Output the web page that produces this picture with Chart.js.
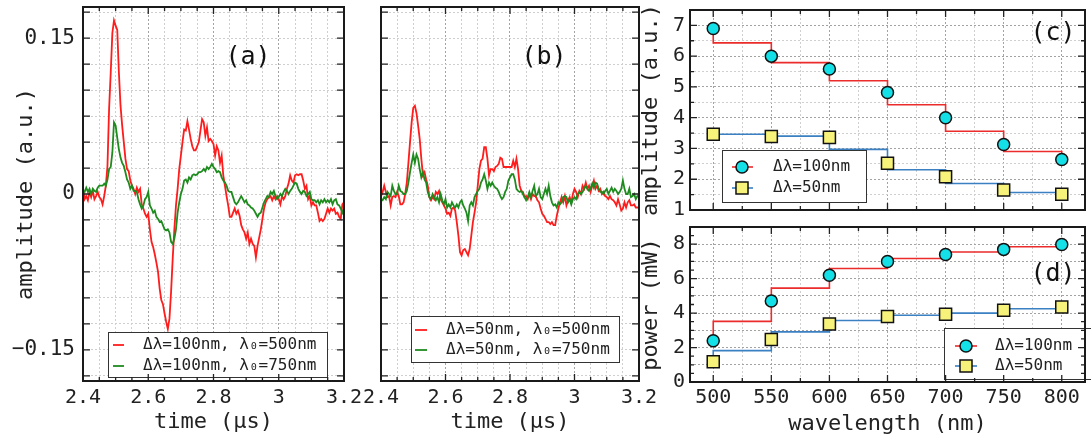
<!DOCTYPE html>
<html>
<head>
<meta charset="utf-8">
<script src="https://cdn.jsdelivr.net/npm/chart.js@4.4.0/dist/chart.umd.min.js"></script>
<style>
html, body { margin: 0; padding: 0; background: #fff; overflow: hidden; }
#fig { position: relative; width: 1091px; height: 441px; overflow: hidden; background: #fff; }
#fig canvas { position: absolute; }
</style>
</head>
<body>
<div id="fig">
  <canvas id="chartA" width="380" height="441" style="left:0;top:0"></canvas>
  <canvas id="chartB" width="300" height="441" style="left:360px;top:0"></canvas>
  <canvas id="chartC" width="465" height="220" style="left:630px;top:0"></canvas>
  <canvas id="chartD" width="465" height="224" style="left:630px;top:217px"></canvas>
</div>
<script>
// sample times (µs)
const times = [
  2.400, 2.405, 2.410, 2.415, 2.420, 2.425, 2.430, 2.435, 2.440, 2.445,
  2.450, 2.455, 2.460, 2.465, 2.470, 2.475, 2.480, 2.485, 2.490, 2.495,
  2.500, 2.505, 2.510, 2.515, 2.520, 2.525, 2.530, 2.535, 2.540, 2.545,
  2.550, 2.555, 2.560, 2.565, 2.570, 2.575, 2.580, 2.585, 2.590, 2.595,
  2.600, 2.605, 2.610, 2.615, 2.620, 2.625, 2.630, 2.635, 2.640, 2.645,
  2.650, 2.655, 2.660, 2.665, 2.670, 2.675, 2.680, 2.685, 2.690, 2.695,
  2.700, 2.705, 2.710, 2.715, 2.720, 2.725, 2.730, 2.735, 2.740, 2.745,
  2.750, 2.755, 2.760, 2.765, 2.770, 2.775, 2.780, 2.785, 2.790, 2.795,
  2.800, 2.805, 2.810, 2.815, 2.820, 2.825, 2.830, 2.835, 2.840, 2.845,
  2.850, 2.855, 2.860, 2.865, 2.870, 2.875, 2.880, 2.885, 2.890, 2.895,
  2.900, 2.905, 2.910, 2.915, 2.920, 2.925, 2.930, 2.935, 2.940, 2.945,
  2.950, 2.955, 2.960, 2.965, 2.970, 2.975, 2.980, 2.985, 2.990, 2.995,
  3.000, 3.005, 3.010, 3.015, 3.020, 3.025, 3.030, 3.035, 3.040, 3.045,
  3.050, 3.055, 3.060, 3.065, 3.070, 3.075, 3.080, 3.085, 3.090, 3.095,
  3.100, 3.105, 3.110, 3.115, 3.120, 3.125, 3.130, 3.135, 3.140, 3.145,
  3.150, 3.155, 3.160, 3.165, 3.170, 3.175, 3.180, 3.185, 3.190, 3.195,
  3.200
];

// (a) Δλ=100nm
const redA = [
  0.006, -0.005, -0.002, -0.006, 0.002, -0.003, 0.003, -0.005, -0.002, 0.002,
  -0.003, -0.005, -0.010, -0.002, 0.008, 0.027, 0.082, 0.117, 0.155, 0.167,
  0.162, 0.158, 0.117, 0.085, 0.066, 0.050, 0.034, 0.024, 0.022, 0.013,
  0.008, 0.005, 0.000, 0.006, 0.002, 0.005, -0.010, -0.014, -0.019, -0.022,
  -0.019, -0.034, -0.046, -0.051, -0.058, -0.066, -0.075, -0.091, -0.102, -0.106,
  -0.115, -0.123, -0.130, -0.120, -0.094, -0.062, -0.034, -0.011, 0.005, 0.024,
  0.037, 0.050, 0.062, 0.061, 0.070, 0.062, 0.053, 0.046, 0.042, 0.042,
  0.046, 0.050, 0.061, 0.072, 0.069, 0.056, 0.064, 0.051, 0.053, 0.051,
  0.048, 0.037, 0.046, 0.042, 0.030, 0.037, 0.018, 0.008, -0.002, -0.011,
  -0.022, -0.022, -0.018, -0.014, -0.019, -0.016, -0.021, -0.030, -0.034, -0.037,
  -0.043, -0.037, -0.048, -0.043, -0.048, -0.050, -0.061, -0.050, -0.042, -0.034,
  -0.024, -0.014, -0.008, -0.005, -0.003, -0.002, -0.006, -0.002, -0.005, -0.002,
  -0.005, -0.010, -0.002, -0.005, -0.002, 0.005, 0.010, 0.018, 0.013, 0.011,
  0.018, 0.019, 0.018, 0.019, 0.019, 0.013, 0.005, 0.008, -0.005, -0.002,
  -0.011, -0.008, -0.011, -0.011, -0.018, -0.026, -0.024, -0.026, -0.024, -0.019,
  -0.014, -0.018, -0.014, -0.016, -0.014, -0.019, -0.018, -0.022, -0.024, -0.010,
  -0.008
];
const greenA = [
  0.003, 0.002, 0.006, 0.002, 0.005, 0.000, 0.005, 0.003, 0.002, 0.006,
  0.008, 0.008, 0.008, 0.010, 0.008, 0.014, 0.024, 0.026, 0.040, 0.069,
  0.066, 0.054, 0.043, 0.035, 0.030, 0.027, 0.021, 0.014, 0.011, 0.005,
  0.008, 0.003, 0.003, 0.002, -0.005, -0.010, -0.014, -0.011, -0.005, -0.003,
  0.002, -0.011, -0.014, -0.018, -0.016, -0.022, -0.024, -0.027, -0.026, -0.030,
  -0.034, -0.035, -0.034, -0.037, -0.046, -0.048, -0.043, -0.034, -0.018, -0.008,
  0.000, 0.005, 0.013, 0.014, 0.011, 0.016, 0.014, 0.018, 0.019, 0.018,
  0.019, 0.021, 0.021, 0.022, 0.024, 0.022, 0.026, 0.024, 0.026, 0.029,
  0.026, 0.024, 0.021, 0.022, 0.021, 0.016, 0.013, 0.011, 0.008, 0.003,
  0.002, 0.002, -0.003, -0.008, -0.010, -0.008, -0.005, -0.002, -0.005, -0.008,
  -0.006, -0.010, -0.011, -0.013, -0.014, -0.016, -0.019, -0.022, -0.019, -0.018,
  -0.013, -0.008, -0.005, -0.002, -0.003, 0.002, 0.000, 0.003, -0.002, -0.005,
  -0.003, 0.000, -0.002, 0.002, 0.005, 0.003, 0.000, 0.003, 0.005, 0.008,
  0.011, 0.010, 0.005, 0.002, 0.000, 0.003, 0.002, -0.002, 0.000, 0.002,
  -0.005, -0.006, -0.006, -0.008, -0.006, -0.010, -0.006, -0.008, -0.005, -0.008,
  -0.006, -0.008, -0.005, -0.010, -0.006, -0.005, -0.010, -0.011, -0.014, -0.018,
  -0.014
];

// (b) Δλ=50nm
const redB = [
  -0.002, 0.002, 0.008, 0.002, -0.003, -0.002, -0.011, -0.003, -0.002, -0.003,
  0.002, -0.002, -0.010, -0.010, -0.008, 0.000, 0.011, 0.030, 0.050, 0.069,
  0.083, 0.085, 0.078, 0.066, 0.053, 0.034, 0.018, 0.021, 0.014, 0.008,
  -0.003, -0.006, -0.003, -0.005, 0.002, 0.000, 0.003, -0.005, -0.008, -0.011,
  -0.014, -0.019, -0.018, -0.021, -0.014, -0.013, -0.016, -0.027, -0.040, -0.056,
  -0.059, -0.054, -0.053, -0.056, -0.059, -0.053, -0.040, -0.027, -0.018, -0.008,
  0.008, 0.024, 0.032, 0.034, 0.045, 0.045, 0.034, 0.018, 0.024, 0.024,
  0.022, 0.026, 0.027, 0.029, 0.035, 0.034, 0.026, 0.026, 0.026, 0.026,
  0.026, 0.026, 0.032, 0.026, 0.034, 0.024, 0.008, 0.003, 0.002, -0.003,
  -0.002, -0.005, 0.000, -0.005, 0.000, -0.002, -0.002, -0.006, -0.008, -0.014,
  -0.019, -0.021, -0.024, -0.027, -0.027, -0.029, -0.027, -0.030, -0.030, -0.021,
  -0.014, -0.008, -0.003, -0.008, -0.002, -0.011, -0.006, -0.003, -0.008, 0.000,
  0.005, 0.002, -0.003, 0.003, 0.000, 0.008, 0.005, 0.011, 0.005, 0.008,
  0.002, 0.008, 0.013, 0.005, 0.008, 0.003, 0.005, 0.000, 0.002, -0.002,
  -0.003, -0.005, -0.002, -0.005, -0.006, -0.008, -0.011, -0.005, -0.010, -0.016,
  -0.014, -0.008, -0.013, -0.008, -0.006, -0.011, -0.011, -0.010, -0.013, -0.013,
  -0.013
];
const greenB = [
  -0.005, -0.006, -0.003, -0.005, 0.002, 0.000, -0.002, 0.008, 0.003, 0.000,
  0.000, 0.008, 0.003, 0.002, 0.000, 0.000, 0.003, 0.011, 0.021, 0.030,
  0.038, 0.030, 0.038, 0.034, 0.024, 0.016, 0.021, 0.014, 0.011, 0.002,
  -0.003, -0.005, 0.000, -0.003, -0.006, -0.003, -0.008, 0.000, -0.006, -0.010,
  -0.005, -0.013, -0.010, -0.013, -0.008, -0.011, -0.013, -0.010, -0.013, -0.008,
  -0.006, -0.011, -0.014, -0.018, -0.026, -0.011, -0.008, -0.011, -0.003, 0.000,
  0.003, 0.005, 0.011, 0.014, 0.019, 0.013, 0.005, 0.011, 0.008, 0.011,
  0.008, 0.006, 0.005, 0.002, -0.002, -0.005, -0.003, 0.002, 0.005, 0.013,
  0.016, 0.019, 0.019, 0.014, 0.005, 0.003, 0.002, 0.003, 0.000, -0.003,
  -0.006, -0.003, 0.002, -0.003, 0.003, 0.008, -0.002, 0.000, 0.005, -0.003,
  -0.005, 0.000, 0.005, 0.000, 0.008, -0.002, -0.008, -0.011, -0.010, -0.013,
  -0.008, -0.010, -0.008, -0.003, -0.002, -0.003, -0.008, -0.005, -0.010, -0.005,
  -0.003, -0.005, 0.000, 0.002, 0.000, 0.002, 0.005, 0.008, 0.005, 0.003,
  0.006, 0.010, 0.006, 0.011, 0.010, 0.005, 0.002, 0.002, 0.000, 0.003,
  0.005, 0.000, 0.003, 0.006, 0.002, 0.005, 0.003, 0.000, 0.002, 0.005,
  0.013, 0.005, 0.000, 0.000, 0.005, -0.003, -0.002, 0.000, -0.005, -0.002,
  -0.003
];

const timeTicks = [2.4, 2.6, 2.8, 3, 3.2];
const ampTicks = [-0.15, 0, 0.15];

// (c) and (d)
const wavelengths = [500, 550, 600, 650, 700, 750, 800];
const ampWide = [6.9, 6.0, 5.58, 4.82, 4.0, 3.13, 2.64];
const ampNarrow = [3.46, 3.39, 3.36, 2.52, 2.08, 1.65, 1.51];
const ampWideSteps = [6.43, 5.79, 5.2, 4.42, 3.56, 2.9];
const ampNarrowSteps = [3.46, 3.40, 2.97, 2.31, 1.86, 1.57];
const powWide = [2.4, 4.7, 6.2, 7.0, 7.4, 7.7, 7.98];
const powNarrow = [1.18, 2.47, 3.37, 3.8, 3.94, 4.16, 4.35];
const powWideSteps = [3.52, 5.45, 6.59, 7.17, 7.55, 7.85];
const powNarrowSteps = [1.82, 2.91, 3.57, 3.88, 4.0, 4.25];

const FONT = "'DejaVu Sans Mono', monospace";
Chart.defaults.font.family = FONT;
Chart.defaults.color = '#222';

const RED = '#ff1c1c', GREEN = '#1d8b1d';
const STEP_RED = '#ec2b2b', STEP_BLUE = '#3a80c2';
const CYAN = '#14e0e8', YELLOW = '#f6f27a';
const GRID_MAJOR = '#a3a3a3', GRID_MINOR = '#cfcfcf';

const near = (v, list) => list.some(t => Math.abs(t - v) < 1e-9);
const isMult = (v, s) => Math.abs(v / s - Math.round(v / s)) < 1e-6;

function fixAxis(size, horizontal) {
  return s => {
    if (horizontal) s.height = size; else s.width = size;
    s.paddingLeft = s.paddingRight = s.paddingTop = s.paddingBottom = 0;
  };
}

function pts(xs, ys) {
  return xs.map((x, i) => ({ x: x, y: ys[i] }));
}

// step line from first marker, through the levels, to last marker
function stepPath(xs, marks, levels) {
  const path = [{ x: xs[0], y: marks[0] }];
  levels.forEach((v, i) => path.push({ x: xs[i + 1], y: v }));
  path.push({ x: xs[xs.length - 1], y: marks[marks.length - 1] });
  return path;
}

function drawMarker(ctx, style, x, y, r) {
  ctx.beginPath();
  if (style === 'circle') {
    ctx.arc(x, y, r, 0, Math.PI * 2);
  } else {
    const h = r * Math.SQRT1_2;
    ctx.rect(x - h, y - h, 2 * h, 2 * h);
  }
  ctx.fill();
  ctx.stroke();
}

function drawLegend(ctx, L) {
  const [x0, y0, x1, y1] = L.box;
  ctx.fillStyle = '#fff';
  ctx.fillRect(x0, y0, x1 - x0, y1 - y0);
  ctx.strokeStyle = '#333';
  ctx.lineWidth = 1;
  ctx.strokeRect(x0 + 0.5, y0 + 0.5, x1 - x0, y1 - y0);
  ctx.font = '16px ' + FONT;
  ctx.textAlign = 'left';
  ctx.textBaseline = 'middle';
  L.items.forEach((it, i) => {
    const y = L.rows[i];
    ctx.strokeStyle = it.color;
    ctx.lineWidth = it.width;
    ctx.beginPath();
    ctx.moveTo(L.line[0], y);
    ctx.lineTo(L.line[1], y);
    ctx.stroke();
    if (it.marker) {
      ctx.fillStyle = it.fill;
      ctx.strokeStyle = '#111';
      ctx.lineWidth = 1.5;
      drawMarker(ctx, it.marker, L.markerX, y, it.radius);
    }
    ctx.fillStyle = '#222';
    ctx.fillText(it.label, L.textX, y);
  });
}

// frame with inward ticks on all four sides, legend box and panel tag
const framePlugin = {
  id: 'frame',
  afterDatasetsDraw(chart, args, opts) {
    const ctx = chart.ctx;
    const a = chart.chartArea;
    const xs = chart.scales.x, ys = chart.scales.y;
    ctx.save();
    if (opts.legend) drawLegend(ctx, opts.legend);
    if (opts.tag) {
      ctx.font = '25px ' + FONT;
      ctx.fillStyle = '#111';
      ctx.textAlign = 'center';
      ctx.textBaseline = 'middle';
      ctx.fillText(opts.tag.text, opts.tag.x, opts.tag.y);
    }
    ctx.strokeStyle = '#222';
    ctx.lineWidth = 1.3;
    ctx.beginPath();
    xs.ticks.forEach(t => {
      const p = xs.getPixelForValue(t.value);
      if (p < a.left + 1 || p > a.right - 1) return;
      const len = isMult(t.value, opts.xMajor) ? 7 : 4;
      ctx.moveTo(p, a.bottom); ctx.lineTo(p, a.bottom - len);
      ctx.moveTo(p, a.top); ctx.lineTo(p, a.top + len);
    });
    ys.ticks.forEach(t => {
      const p = ys.getPixelForValue(t.value);
      if (p < a.top + 1 || p > a.bottom - 1) return;
      const len = isMult(t.value, opts.yMajor) ? 7 : 4;
      ctx.moveTo(a.left, p); ctx.lineTo(a.left + len, p);
      ctx.moveTo(a.right, p); ctx.lineTo(a.right - len, p);
    });
    ctx.stroke();
    ctx.strokeStyle = '#1a1a1a';
    ctx.lineWidth = 2;
    ctx.strokeRect(a.left, a.top, a.right - a.left, a.bottom - a.top);
    ctx.restore();
  }
};

function waveChart(id, red, green, showY, yWidth, rightPad, legend, tag) {
  return new Chart(document.getElementById(id), {
    type: 'line',
    data: {
      datasets: [
        { data: pts(times, red), borderColor: RED, borderWidth: 1.8, pointRadius: 0, order: 2 },
        { data: pts(times, green), borderColor: GREEN, borderWidth: 1.8, pointRadius: 0, order: 1 }
      ]
    },
    options: {
      responsive: false,
      animation: false,
      events: [],
      layout: { padding: { top: 7, right: rightPad, bottom: 0, left: 0 } },
      plugins: {
        legend: { display: false },
        tooltip: { enabled: false },
        frame: { xMajor: 0.2, yMajor: 0.025, legend: legend, tag: tag }
      },
      scales: {
        x: {
          type: 'linear', min: 2.4, max: 3.2,
          afterFit: fixAxis(60, true),
          ticks: {
            stepSize: 0.05, autoSkip: false, maxRotation: 0, padding: 5,
            font: { size: 20 },
            callback: v => near(v, timeTicks) ? String(+v.toFixed(2)) : ''
          },
          grid: { drawTicks: false, color: c => isMult(c.tick.value, 0.2) ? GRID_MAJOR : GRID_MINOR },
          border: { display: false, dash: [2, 2] },
          title: { display: true, text: 'time (µs)', font: { size: 22 }, padding: { top: 0, bottom: 6 } }
        },
        y: {
          type: 'linear', min: -0.18, max: 0.18,
          afterFit: fixAxis(yWidth, false),
          ticks: {
            stepSize: 0.025, includeBounds: false, autoSkip: false, padding: 8,
            display: showY, font: { size: 21 },
            callback: v => {
              if (!near(v, ampTicks)) return '';
              if (Math.abs(v) < 1e-9) return '0';
              return (v < 0 ? '\u2212' : '') + Math.abs(v).toFixed(2);
            }
          },
          grid: { drawTicks: false, color: GRID_MINOR },
          border: { display: false, dash: [2, 2] },
          title: { display: showY, text: 'amplitude (a.u.)', font: { size: 22 }, padding: { top: 13, bottom: 0 } }
        }
      }
    },
    plugins: [framePlugin]
  });
}

function specChart(id, wide, narrow, wideSteps, narrowSteps, yMin, yMax, yLabelStep, yGridHalf, showX, xHeight, yTitle, legend, tag) {
  return new Chart(document.getElementById(id), {
    type: 'line',
    data: {
      datasets: [
        { data: stepPath(wavelengths, wide, wideSteps), stepped: 'after', borderColor: STEP_RED, borderWidth: 1.6, pointRadius: 0, order: 3 },
        { data: stepPath(wavelengths, narrow, narrowSteps), stepped: 'after', borderColor: STEP_BLUE, borderWidth: 1.6, pointRadius: 0, order: 3 },
        { data: pts(wavelengths, wide), showLine: false, pointStyle: 'circle', pointRadius: 6,
          pointBackgroundColor: CYAN, pointBorderColor: '#111', pointBorderWidth: 1.5, order: 1 },
        { data: pts(wavelengths, narrow), showLine: false, pointStyle: 'rect', pointRadius: 8.5,
          pointBackgroundColor: YELLOW, pointBorderColor: '#111', pointBorderWidth: 1.5, order: 1 }
      ]
    },
    options: {
      responsive: false,
      animation: false,
      events: [],
      layout: { padding: { top: showX ? 1 : 7, right: 1, bottom: 0, left: 0 } },
      plugins: {
        legend: { display: false },
        tooltip: { enabled: false },
        frame: { xMajor: 50, yMajor: yLabelStep === 2 ? 2 : 1, legend: legend, tag: tag }
      },
      scales: {
        x: {
          type: 'linear', min: 480, max: 820,
          afterFit: fixAxis(xHeight, true),
          ticks: {
            stepSize: 25, includeBounds: false, autoSkip: false, maxRotation: 0, padding: 4,
            display: showX, font: { size: 20 },
            callback: v => isMult(v, 50) ? String(v) : ''
          },
          grid: { drawTicks: false, color: c => isMult(c.tick.value, 50) ? GRID_MAJOR : GRID_MINOR },
          border: { display: false, dash: [2, 2] },
          title: { display: showX, text: 'wavelength (nm)', font: { size: 22 }, padding: { top: 0, bottom: 4 } }
        },
        y: {
          type: 'linear', min: yMin, max: yMax,
          afterFit: fixAxis(60, false),
          ticks: {
            stepSize: 0.5, includeBounds: false, autoSkip: false, padding: 5,
            font: { size: 20 },
            callback: v => isMult(v, yLabelStep) ? String(v) : ''
          },
          grid: {
            drawTicks: false,
            color: c => {
              const v = c.tick.value;
              if (!isMult(v, 1)) return yGridHalf ? GRID_MINOR : 'rgba(0,0,0,0)';
              return GRID_MAJOR;
            }
          },
          border: { display: false, dash: [2, 2] },
          title: { display: true, text: yTitle, font: { size: 22 }, padding: { top: 8, bottom: 0 } }
        }
      }
    },
    plugins: [framePlugin]
  });
}

waveChart('chartA', redA, greenA, true, 83, 36, {
  box: [108, 332, 327, 377], rows: [345, 366], line: [113, 124], textX: 143,
  items: [
    { label: 'Δλ=100nm, λ₀=500nm', color: RED, width: 1.8 },
    { label: 'Δλ=100nm, λ₀=750nm', color: GREEN, width: 1.8 }
  ]
}, { text: '(a)', x: 248, y: 57 });

waveChart('chartB', redB, greenB, false, 21, 21, {
  box: [51, 316, 259, 362], rows: [330, 350], line: [55, 67], textX: 86,
  items: [
    { label: 'Δλ=50nm, λ₀=500nm', color: RED, width: 1.8 },
    { label: 'Δλ=50nm, λ₀=750nm', color: GREEN, width: 1.8 }
  ]
}, { text: '(b)', x: 184, y: 57 });

specChart('chartC', ampWide, ampNarrow, ampWideSteps, ampNarrowSteps, 1, 7.5, 1, true, false, 2,
  'amplitude (a.u.)', {
    box: [92, 150, 236, 202], rows: [167, 188], line: [102, 123], markerX: 112, textX: 143,
    items: [
      { label: 'Δλ=100nm', color: STEP_RED, width: 1.6, marker: 'circle', radius: 6, fill: CYAN },
      { label: 'Δλ=50nm', color: STEP_BLUE, width: 1.6, marker: 'rect', radius: 8.5, fill: YELLOW }
    ]
  }, { text: '(c)', x: 423, y: 33 });

specChart('chartD', powWide, powNarrow, powWideSteps, powNarrowSteps, 0, 9, 2, false, true, 59,
  'power (mW)', {
    box: [314, 111, 470, 162], rows: [129, 149], line: [325, 347], markerX: 336, textX: 365,
    items: [
      { label: 'Δλ=100nm', color: STEP_RED, width: 1.6, marker: 'circle', radius: 6, fill: CYAN },
      { label: 'Δλ=50nm', color: STEP_BLUE, width: 1.6, marker: 'rect', radius: 8.5, fill: YELLOW }
    ]
  }, { text: '(d)', x: 423, y: 57 });
</script>
</body>
</html>
